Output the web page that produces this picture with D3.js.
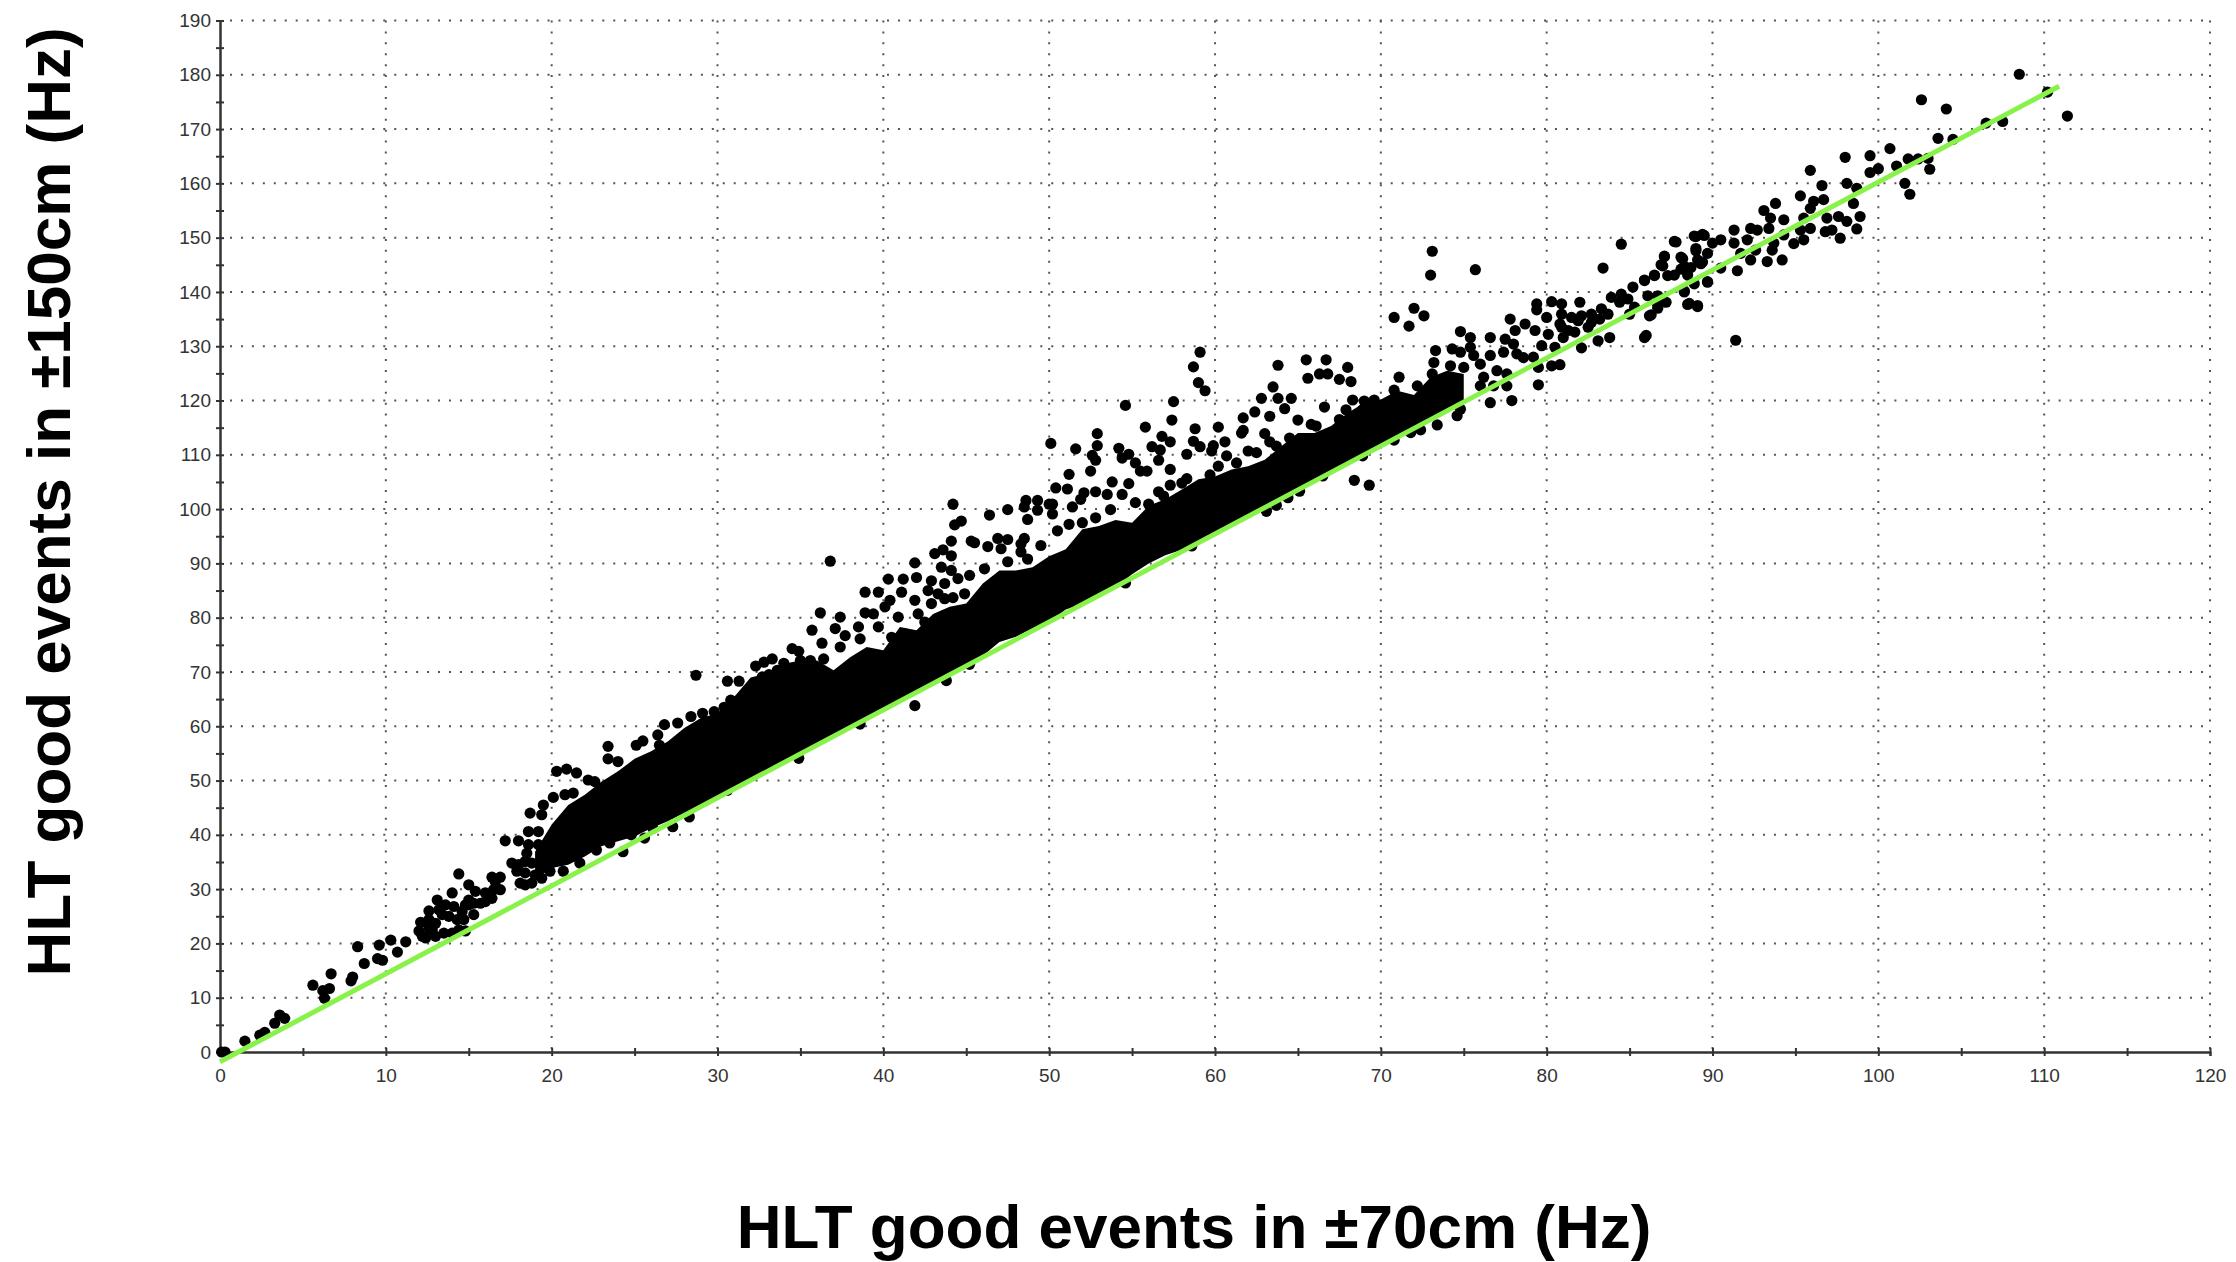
<!DOCTYPE html>
<html>
<head>
<meta charset="utf-8">
<title>HLT good events</title>
<script src="https://cdn.jsdelivr.net/npm/d3@7"></script>
<style>
    html, body { margin: 0; background: #fff; }
    svg { display: block; }
</style>
</head>
<body>
<div id="chart"></div>
<script>
// Tick labels
const xTicks = [0, 10, 20, 30, 40, 50, 60, 70, 80, 90, 100, 110, 120];
const xMinorTicks = [5, 15, 25, 35, 45, 55, 65, 75, 85, 95, 105, 115];
const yTicks = [0, 10, 20, 30, 40, 50, 60, 70, 80, 90, 100, 110, 120, 130, 140, 150, 160, 170, 180, 190];
const yMinorTicks = [5, 15, 25, 35, 45, 55, 65, 75, 85, 95, 105, 115, 125, 135, 145, 155, 165, 175, 185];

// Fit line ends
const fitX = [0, 110.9];
const fitY = [-1.8, 177.9];

// Points overlap into solid black in the middle of the band, so single values
// can't be read there. These are the edges of that solid part, read per x.
const coreX = [19, 20, 21, 22, 23, 24, 25, 26, 27, 28, 29, 30, 31, 32, 33, 34, 35, 36, 37, 38, 39, 40, 41, 42, 43, 44, 45, 46, 47, 48, 49, 50, 51, 52, 53, 54, 55, 56, 57, 58, 59, 60, 61, 62, 63, 64, 65, 66, 67, 68, 69, 70, 71, 72, 73, 74, 75];
const coreLow = [32, 33.9, 34.5, 36, 37.9, 38.8, 39.7, 41.2, 42.5, 44, 45.2, 46.8, 48.2, 50, 51.5, 53.2, 54.8, 56.4, 58, 59.8, 61.4, 63, 64.6, 66.2, 67.9, 69.5, 71, 73, 75.5, 76.5, 78, 79.2, 81.5, 82.5, 84.1, 85.7, 88, 90, 91.5, 92.5, 94, 95.4, 97, 98.7, 100.3, 102, 103.5, 105.5, 107, 108.5, 110, 111.6, 113.2, 114.8, 116.5, 118, 119.8];
const coreHigh = [36.9, 41.9, 45.5, 47.4, 49.8, 51.7, 54, 55.4, 57.2, 59.7, 61.5, 62.4, 65.4, 69, 69.7, 71.5, 72.1, 72.1, 70.3, 72.7, 74.6, 74, 78.3, 77.7, 80.7, 82, 82.6, 86.3, 88.7, 88.7, 89.3, 91.3, 92.6, 96.3, 96.9, 98, 97.5, 100.6, 101.8, 103.6, 105.5, 106, 107.3, 107.9, 109.1, 111.6, 114, 114, 115.3, 117.7, 119.6, 120.2, 121.8, 121, 124.3, 125.5, 124.9];

// Single points as [x, y], grouped along the band
const pointsBelow12 = [[0.1, 0], [0.3, 0], [1.5, 2], [2.4, 3.1], [2.7, 3.6], [3.3, 5.3], [3.6, 6.8], [3.9, 6.2], [5.6, 12.3], [6.7, 14.4], [6.6, 11.7], [6.2, 11.3], [6.3, 9.9], [7.9, 13.1], [8, 13.8], [8.7, 16.3], [8.3, 19.4], [9.5, 17.2], [9.8, 16.9], [9.6, 19.7], [10.3, 20.6], [11.2, 20.3], [10.7, 18.4]];

const points12to19 = [[12.1, 23.9], [12, 22.3], [12.4, 21], [13, 21.3], [13.5, 21.9], [14, 21.9], [14.8, 22.3], [12.6, 26], [13.1, 28], [13.2, 26.2], [14.1, 26.8], [14, 29.3], [14.4, 32.8], [15, 30.8], [15, 28], [15.4, 29.6], [16, 29.3], [16.4, 28.3], [16.9, 29.9], [16.4, 32.2], [16.9, 32.2], [15.3, 25.3], [14.6, 25.9], [13.8, 25], [13, 23.7], [12.8, 22.5], [15, 27.1], [15.7, 27.4], [12.2, 21.3], [12.6, 24.4], [13.4, 25.3], [13.6, 27.1], [14.3, 24.4], [14.7, 24.4], [14.4, 22.5], [12.6, 22.8], [14.8, 27.1], [15.3, 27.4], [16, 27.7], [16.5, 29.9], [16.6, 31.4], [17.2, 38.9], [18, 38.9], [17.6, 34.8], [17.9, 33.3], [18.1, 31.1], [18.8, 31.1], [18, 34.5], [18.4, 33], [19, 32.6], [18.4, 30.8], [18.8, 34.8], [18.4, 35.1], [18.5, 36.6], [18.6, 38.2], [18.6, 40.6], [18.7, 44]];

const points19to30 = [[19.4, 32], [19.2, 40.6], [19.2, 38.2], [19.4, 33.9], [19.9, 33.3], [19.4, 43.7], [19.5, 45.5], [20.1, 46.9], [20.3, 51.7], [20.9, 52.1], [21.5, 51.4], [22.2, 50.1], [21.3, 47.7], [20.8, 47.4], [22.6, 49.8], [23.4, 56.3], [23.4, 54], [24, 53.5], [25.1, 56.5], [25.5, 57.3], [26.4, 58.4], [26.5, 56.5], [26.8, 60.3], [27.6, 60.6], [28.4, 61.8], [29.1, 62.4], [29.8, 62.7], [28.7, 69.4], [20.7, 33.3], [21.7, 34.8], [22.7, 37.2], [24.3, 36.9], [23.5, 38.5], [25.6, 39.4], [27.3, 41.5], [28.3, 43.3], [24.8, 40], [26.1, 41.2]];

const points30to50 = [[36.8, 90.4], [44.2, 100.9], [46.4, 98.9], [47.5, 99.9], [44.7, 97.8], [44.3, 97.1], [48.6, 101.6], [49.3, 101.6], [48.5, 100.4], [49.3, 99.8], [48.7, 98.1], [44.1, 94.1], [45.3, 94.1], [45.5, 93.8], [46.3, 93.1], [46.9, 94.6], [47.5, 94.4], [47.1, 92.7], [48.5, 94.6], [48.3, 93.6], [48.3, 92.1], [48.7, 90.8], [49.5, 93.3], [43.1, 91.8], [43.6, 92.5], [44.1, 91.4], [41.9, 90.1], [43.5, 89.3], [44.1, 88.7], [46.1, 89], [47.5, 90.3], [40.3, 87.1], [41.2, 87.1], [42, 87.4], [42.9, 86.8], [45.2, 87.8], [44.5, 87.2], [43.7, 86.3], [38.9, 84.7], [39.7, 84.7], [41.1, 84.7], [43.7, 83.5], [44.2, 83.7], [44.9, 84.4], [36.2, 80.9], [37.4, 80.1], [35.7, 77.7], [37.1, 78], [38.9, 80.9], [38.5, 78.3], [36.3, 75.3], [37.7, 76.7], [34.5, 74.3], [34.9, 73.8], [33.3, 72.4], [32.8, 71.8], [32.3, 71.1], [34, 71.6], [33.1, 69.5], [32.7, 69.1], [31.3, 68.3], [30.6, 68.3], [37.4, 74.6], [36.4, 72.4], [41.9, 63.8], [34.9, 54.1], [43.8, 68.4], [45.2, 71.4], [40.1, 82], [40.4, 83.2], [41.9, 83.2], [42.7, 85], [39.4, 80.7], [39.7, 78.3], [40.9, 80.1], [42.1, 80.7], [42.9, 82.6], [43.3, 84.4], [38.6, 76.1], [40.5, 76.4], [41.3, 77], [42.5, 79.2], [43.7, 80.4], [33.6, 70.3], [35, 72.1], [35.6, 72.1], [30.8, 64.8], [30.4, 63.5], [38.6, 60.4], [30.6, 48.2]];

const points50to70 = [[59.1, 128.9], [58.7, 126.2], [59, 123.3], [59.4, 121.8], [54.6, 119.1], [57.5, 119.8], [57.4, 116.4], [55.8, 115.1], [58.8, 114.8], [60.2, 115.1], [52.9, 113.9], [56.8, 113.4], [57.3, 112.4], [50.1, 112.1], [51.6, 111.1], [52.9, 111.7], [58.7, 112.5], [59.1, 111.5], [59.9, 111.7], [59.8, 110.7], [60.6, 112.4], [56.2, 111.5], [56.7, 110.9], [58.3, 110.1], [54.2, 111.2], [54.8, 110.1], [54.4, 109.4], [52.6, 109.9], [52.8, 109], [55.2, 108.5], [56.6, 109], [55.5, 107], [55.9, 107], [57.3, 107.3], [52.5, 107], [51.2, 106.4], [53.8, 105], [54.8, 104.7], [50.4, 103.9], [51.1, 103.7], [52.1, 103], [52.8, 103.2], [53.5, 102.7], [51.9, 101.8], [56.6, 103.2], [57.3, 104.4], [58.3, 105.6], [59.7, 106.3], [50.2, 100.9], [50.2, 99.1], [51.4, 100.4], [52.8, 98.4], [53.7, 99.9], [54.4, 102.7], [55.2, 101.2], [56, 100.9], [50.5, 96], [51.2, 97.2], [52, 97.5], [50, 100.9], [63.8, 126.5], [65.5, 127.5], [66.7, 127.5], [68, 126.1], [65.6, 124.1], [66.3, 124.9], [66.8, 124.9], [67.5, 123.9], [68.2, 123.5], [63.5, 122.5], [62.8, 120.4], [63.8, 120.4], [64.6, 120.4], [64.2, 118.5], [62.4, 117.9], [61.7, 116.8], [63.3, 117.1], [61.7, 114.5], [61.6, 114], [63, 113.9], [63.3, 112.4], [62, 110.7], [60.7, 109.8], [65, 116.4], [65.8, 115.6], [66.6, 118.8], [64.5, 113.1], [68.3, 120.1], [67.9, 118.3], [69, 119.9], [69.6, 120.1], [68.4, 105.3], [69.3, 104.4], [68.9, 109.8], [63.1, 99.6], [63.7, 100.7], [64.4, 102.1], [65.1, 103.3], [66.5, 106.1], [58.6, 93.2], [54.6, 86.4], [67.1, 112.8], [66.1, 115.3], [67.5, 116.5], [68.9, 118.3], [69.3, 115.3], [68.1, 114.7], [62.5, 110.4], [63.7, 111.6], [61.3, 108.5], [60.2, 107.9], [58, 104.8], [56.9, 102.4]];

const points70to90 = [[73.1, 147.5], [73, 143.1], [75.7, 144.1], [70.8, 135.3], [72, 137], [72.6, 135.6], [71.7, 133.7], [74.8, 132.7], [75.4, 131.6], [76.6, 131.6], [77.8, 135], [78.7, 134.1], [79.4, 137.8], [79.4, 136.7], [80.3, 138.2], [80.9, 137.8], [80, 135.3], [82, 138.1], [83.4, 144.4], [84.5, 148.8], [87.8, 149.2], [89, 150.2], [89.5, 150.4], [87.1, 146.5], [87, 144.8], [88.2, 146.1], [89, 147.6], [89.4, 145.5], [73.3, 129.2], [73.2, 127], [74.3, 129.5], [74.8, 128.9], [75.4, 129.8], [75.6, 128.3], [73.1, 124.9], [74.2, 126.4], [75, 126.1], [71.1, 124.3], [72.2, 122.7], [70.8, 121.9], [76, 126.7], [76.6, 128.3], [77.5, 131.3], [78.1, 132.9], [78, 130.4], [77.4, 128.9], [77, 125.5], [76.2, 124.3], [76, 122.7], [76.8, 122.7], [77.6, 122.7], [77.6, 124.9], [78.2, 128.6], [78.6, 127.9], [79.3, 132.9], [79.7, 130.1], [80.1, 132.2], [80.8, 134.1], [80.9, 135.9], [81.5, 135.3], [82.1, 135.6], [82.7, 135.9], [83.3, 136.9], [83.9, 139], [84.5, 139.6], [85.2, 140.9], [85.9, 142.1], [86.5, 143], [87.3, 143], [88.1, 144.2], [88.7, 144.5], [89.3, 145.2], [79.2, 128], [80.5, 129.8], [81, 131.6], [81.7, 132.6], [82.5, 133.5], [83.2, 135], [83.7, 135.9], [80.9, 133.5], [81.3, 132.9], [81.9, 134.7], [82.7, 134.4], [79.5, 122.9], [79.5, 126.1], [80.3, 126.4], [80.8, 126.6], [82.1, 129.7], [83.1, 131], [83.8, 131.6], [85.9, 131.6], [86.2, 135.6], [85, 135.9], [85.3, 137.2], [86.7, 137.5], [87.2, 138.1], [88.5, 137.7], [89.1, 137.3], [88.3, 140.2], [88.9, 141.5], [89.7, 141.8], [84.4, 138.1], [84.9, 138.7], [86.1, 139.3], [86.7, 139.3], [74.6, 117.2], [74.8, 118.4], [76.6, 119.6], [77.9, 120], [73.4, 115.5], [72.4, 114.6], [71.8, 114.1], [70.8, 112.7], [71.8, 116], [87.7, 149.3], [88.9, 150.3], [89.4, 150.6], [87.1, 146.6], [86.9, 145], [88.1, 146.4], [89, 148], [88.3, 144.7], [89.1, 145.9], [87.7, 143.1], [88.5, 143.1], [86.5, 143.1], [85.9, 142.2], [89.7, 147.1], [89.7, 141.9], [88.6, 137.9], [89.1, 137.5], [88.3, 140], [87.1, 138.2], [86.3, 135.8], [86.7, 137], [86, 132]];

const pointsAbove90 = [[90.5, 149.6], [90, 149], [91.3, 151.4], [92.3, 151.7], [93.1, 155], [93.8, 156.3], [93.5, 153.6], [94.3, 153.3], [92.7, 151.4], [93.4, 151.7], [91.5, 143.9], [90.5, 144.4], [92.3, 145.9], [93.3, 145.6], [94.2, 145.9], [93.6, 147.7], [92.6, 147.7], [91.7, 147.1], [91.3, 149], [92.1, 149.6], [93.7, 149], [94.3, 150.5], [94.9, 148.9], [95.5, 149.6], [95.3, 151.4], [95.9, 151.7], [95.5, 153.6], [96.1, 156.7], [95.3, 157.7], [96.7, 157], [95.9, 155.4], [95.9, 162.4], [96.6, 159.6], [98, 164.8], [98.1, 160], [98.7, 159.1], [98.5, 156.3], [98.9, 153.9], [98.7, 151.6], [97.7, 149.9], [98.1, 153], [97.6, 153.9], [96.9, 153.6], [96.8, 151.1], [97.2, 151.4], [99.5, 165.1], [99.5, 162], [100, 162.7], [100.7, 166.4], [101.1, 163.2], [101.8, 164.5], [102.4, 164.5], [103, 164.6], [103.1, 162.6], [101.6, 160], [101.9, 158], [103.6, 168.3], [108.5, 180.1], [110.2, 176.8], [111.4, 172.4], [102.6, 175.4], [104.1, 173.7], [106.5, 171.1], [107.5, 171.4], [104.5, 168.1], [91.4, 131.1]];

const singlePoints = [].concat(pointsBelow12, points12to19, points19to30, points30to50, points50to70, points70to90, pointsAbove90);

// Layout
const width = 2236;
const height = 1262;
const plot = { left: 220, right: 2210, top: 20.5, bottom: 1052 };
const dotRadius = 5.6;

const svg = d3.select("#chart")
    .append("svg")
    .attr("width", width)
    .attr("height", height);

// Scales
const x = d3.scaleLinear().domain([0, 120]).range([plot.left, plot.right]);
const y = d3.scaleLinear().domain([0, 190]).range([plot.bottom, plot.top]);

// Dotted grid
svg.append("g")
    .selectAll("line")
    .data(xTicks.slice(1))
    .enter()
    .append("line")
    .attr("x1", d => x(d))
    .attr("x2", d => x(d))
    .attr("y1", plot.top)
    .attr("y2", plot.bottom)
    .attr("stroke", "#555")
    .attr("stroke-width", 2)
    .attr("stroke-dasharray", "2 8.92");

svg.append("g")
    .selectAll("line")
    .data(yTicks.slice(1))
    .enter()
    .append("line")
    .attr("x1", plot.left + 10)
    .attr("x2", plot.right)
    .attr("y1", d => y(d))
    .attr("y2", d => y(d))
    .attr("stroke", "#555")
    .attr("stroke-width", 2)
    .attr("stroke-dasharray", "2 8.95");

// Axes: ticks cross the axis line on both sides
function styleAxis(g, isX) {
    g.select(".domain").attr("stroke", "#333").attr("stroke-width", 2);
    g.selectAll(".tick line")
        .attr("stroke", "#333")
        .attr("stroke-width", 2)
        .attr(isX ? "y1" : "x1", -4)
        .attr(isX ? "y2" : "x2", 4);
    g.selectAll(".tick text")
        .style("font-family", "'Liberation Sans', Arial, sans-serif")
        .style("font-size", "19px")
        .attr("fill", "#333");
}

svg.append("g")
    .attr("transform", `translate(0,${plot.bottom})`)
    .call(d3.axisBottom(x).tickValues(xMinorTicks).tickSize(4).tickFormat(""))
    .call(g => styleAxis(g, true));

svg.append("g")
    .attr("transform", `translate(${plot.left},0)`)
    .call(d3.axisLeft(y).tickValues(yMinorTicks).tickSize(4).tickFormat(""))
    .call(g => styleAxis(g, false));

svg.append("g")
    .attr("transform", `translate(0,${plot.bottom})`)
    .call(d3.axisBottom(x).tickValues(xTicks).tickSize(4).tickPadding(13).tickSizeOuter(0))
    .call(g => styleAxis(g, true));

svg.append("g")
    .attr("transform", `translate(${plot.left},0)`)
    .call(d3.axisLeft(y).tickValues(yTicks).tickSize(4).tickPadding(5).tickSizeOuter(0))
    .call(g => styleAxis(g, false));

// Solid part of the band
const coreArea = d3.area()
    .x(d => x(d))
    .y0((d, i) => y(coreLow[i]))
    .y1((d, i) => y(coreHigh[i]));

svg.append("path")
    .attr("d", coreArea(coreX))
    .attr("fill", "#000");

// Points
svg.append("g")
    .selectAll("circle")
    .data(singlePoints)
    .enter()
    .append("circle")
    .attr("cx", d => x(d[0]))
    .attr("cy", d => y(d[1]))
    .attr("r", dotRadius)
    .attr("fill", "#000");

// Fit line
svg.append("line")
    .attr("x1", x(fitX[0]))
    .attr("y1", y(fitY[0]))
    .attr("x2", x(fitX[1]))
    .attr("y2", y(fitY[1]))
    .attr("stroke", "#88f24a")
    .attr("stroke-width", 5);

// Axis titles
svg.append("text")
    .attr("x", 1194)
    .attr("y", 1248)
    .attr("text-anchor", "middle")
    .style("font-family", "'Liberation Sans', Arial, sans-serif")
    .style("font-weight", "bold")
    .style("font-size", "62px")
    .attr("fill", "#000")
    .text("HLT good events in ±70cm (Hz)");

svg.append("text")
    .attr("transform", "translate(70,502) rotate(-90)")
    .attr("text-anchor", "middle")
    .style("font-family", "'Liberation Sans', Arial, sans-serif")
    .style("font-weight", "bold")
    .style("font-size", "62px")
    .attr("fill", "#000")
    .text("HLT good events in ±150cm (Hz)");
</script>
</body>
</html>
